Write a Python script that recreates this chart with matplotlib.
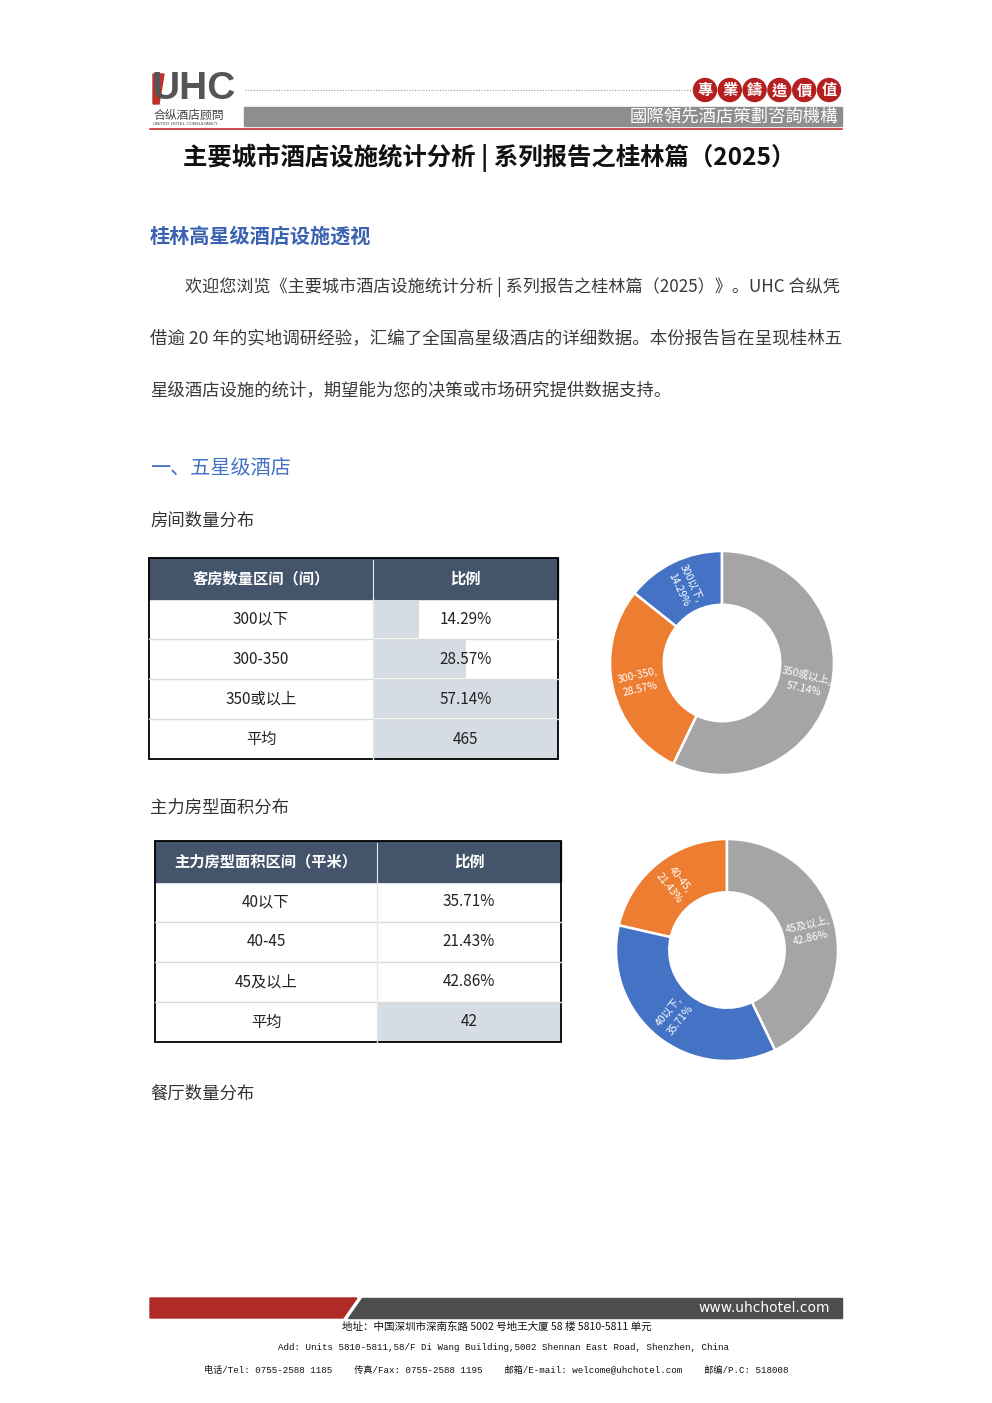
import numpy as np
import matplotlib
matplotlib.use('Agg')
import matplotlib.pyplot as plt
from matplotlib.patches import Rectangle, Circle, Polygon

plt.rcParams['font.family'] = ['Noto Sans CJK SC', 'DejaVu Sans']

# ---- data ----
room_cats = ['300以下', '300-350', '350或以上']
room_share = [14.29, 28.57, 57.14]
room_avg = 465

area_cats = ['40以下', '40-45', '45及以上']
area_share = [35.71, 21.43, 42.86]
area_avg = 42

# category colours (blue / orange / gray like office palette)
cat_colors = ['#4472C4', '#ED7D31', '#A5A5A5']

W, H = 992, 1403
fig = plt.figure(figsize=(W / 100, H / 100), dpi=100)
ax = fig.add_axes([0, 0, 1, 1])
ax.set_xlim(0, W)
ax.set_ylim(H, 0)
ax.axis('off')

dark = '#333333'
blue_txt = '#3A62B0'

# ---- header ----
ax.text(152, 89, 'UHC', fontsize=28, fontweight='bold', color='#555555',
        family='Liberation Sans', va='center', ha='left')
ax.add_patch(Polygon([[153, 74], [164, 74], [159, 104], [153, 104]], color='#C0302B'))
ax.text(153, 115, '合纵酒店顾問', fontsize=8.5, color='#444444', va='center', ha='left')
ax.text(153, 124, 'UNITED HOTEL CONSULTANCY', fontsize=3.2, color='#444444',
        va='center', ha='left', family='DejaVu Sans')
ax.plot([245, 693], [90, 90], ls=(0, (1, 1.5)), color='#999999', lw=0.8)
for i, ch in enumerate('專業鑄造價值'):
    cx = 705 + i * 24.8
    ax.add_patch(Circle((cx, 90), 11.5, color='#B3201F'))
    ax.text(cx, 90.5, ch, fontsize=11, fontweight='bold', color='white',
            ha='center', va='center', family='Noto Sans CJK TC')
ax.add_patch(Rectangle((244, 107), 598, 19, color='#8E8E8E'))
ax.text(838, 116.5, '國際領先酒店策劃咨詢機構', fontsize=12.5, color='white',
        ha='right', va='center', family='Noto Sans CJK TC')
ax.plot([150, 842], [129, 129], color='#C0302B', lw=1.2)

# ---- titles and paragraph ----
ax.text(489, 158, '主要城市酒店设施统计分析 | 系列报告之桂林篇（2025）', fontsize=17.6,
        fontweight='bold', color='#111111', ha='center', va='center')
ax.text(150, 236, '桂林高星级酒店设施透视', fontsize=14.5, fontweight='bold',
        color=blue_txt, ha='left', va='center')

para = ['欢迎您浏览《主要城市酒店设施统计分析 | 系列报告之桂林篇（2025）》。UHC 合纵凭',
        '借逾 20 年的实地调研经验，汇编了全国高星级酒店的详细数据。本份报告旨在呈现桂林五',
        '星级酒店设施的统计，期望能为您的决策或市场研究提供数据支持。']
para_x = [185, 150, 150]
para_fs = [12.3, 12.6, 12.5]
for i, line in enumerate(para):
    ax.text(para_x[i], 287 + i * 52, line, fontsize=para_fs[i], color='#3a3a3a',
            ha='left', va='center')

ax.text(150, 469, '一、五星级酒店', fontsize=14.5, color='#4472C4', ha='left', va='center')
ax.text(150, 521, '房间数量分布', fontsize=12.5, color=dark, ha='left', va='center')
ax.text(150, 808, '主力房型面积分布', fontsize=12.5, color=dark, ha='left', va='center')
ax.text(150, 1094, '餐厅数量分布', fontsize=12.5, color=dark, ha='left', va='center')


# ---- tables ----
def draw_table(x0, x1, xm, y0, head, cats, vals, avg, bars):
    hh, rh = 41, 40
    ax.add_patch(Rectangle((x0, y0), x1 - x0, hh, color='#44546A'))
    ax.plot([xm, xm], [y0 + 2, y0 + hh], color='#E8E8E8', lw=0.8)
    ax.text((x0 + xm) / 2, y0 + hh / 2, head, fontsize=11, fontweight='bold',
            color='white', ha='center', va='center')
    ax.text((xm + x1) / 2, y0 + hh / 2, '比例', fontsize=11, fontweight='bold',
            color='white', ha='center', va='center')
    cw = x1 - xm
    rows = [(c, f'{v:.2f}%') for c, v in zip(cats, vals)] + [('平均', str(avg))]
    vmax = max(vals)
    for i, (c, s) in enumerate(rows):
        ry = y0 + hh + i * rh
        if i < len(vals):
            if bars:
                ax.add_patch(Rectangle((xm, ry + 1), cw * vals[i] / vmax, rh - 2,
                                       color='#D6DCE4', lw=0))
        else:
            ax.add_patch(Rectangle((xm, ry + 1), cw, rh - 1, color='#D6DCE4', lw=0))
        if i > 0:
            ax.plot([x0, x1], [ry, ry], color='#DADADA', lw=1)
        ax.text((x0 + xm) / 2, ry + rh / 2, c, fontsize=11, color='#222222',
                ha='center', va='center')
        ax.text((xm + x1) / 2, ry + rh / 2, s, fontsize=11, color='#222222',
                ha='center', va='center')
    ax.plot([xm, xm], [y0 + hh, y0 + hh + 4 * rh], color='#E6E6E6', lw=1)
    ax.add_patch(Rectangle((x0, y0), x1 - x0, hh + 4 * rh, fill=False,
                           ec='black', lw=1.3))


draw_table(149, 558, 373, 558, '客房数量区间（间）', room_cats, room_share, room_avg, True)
draw_table(155, 561, 377, 841, '主力房型面积区间（平米）', area_cats, area_share, area_avg, False)


# ---- donuts ----
def draw_donut(cx, cy, r, cats, vals, order):
    dax = fig.add_axes([(cx - r) / W, 1 - (cy + r) / H, 2 * r / W, 2 * r / H])
    v = [vals[k] for k in order]
    cols = [cat_colors[k] for k in order]
    wedges, _ = dax.pie(v, colors=cols, startangle=90, counterclock=True,
                        wedgeprops=dict(width=0.48, edgecolor='white', linewidth=1.8))
    dax.set_xlim(-1, 1)
    dax.set_ylim(-1, 1)
    tot = sum(v)
    start = 90.0
    for k, val in zip(order, v):
        span = 360 * val / tot
        mid = start + span / 2
        start += span
        a = np.deg2rad(mid)
        rot = mid % 360
        if 90 < rot < 270:
            rot -= 180
        dax.text(0.76 * np.cos(a), 0.76 * np.sin(a), f'{cats[k]},\n{vals[k]:.2f}%',
                 fontsize=7.5, color='white', ha='center', va='center',
                 rotation=rot, rotation_mode='anchor', linespacing=1.5)


draw_donut(722, 663, 112, room_cats, room_share, [0, 1, 2])
draw_donut(727, 950, 111, area_cats, area_share, [1, 0, 2])

# ---- footer ----
ax.add_patch(Polygon([[150, 1298], [357, 1298], [343, 1318], [150, 1318]], color='#B02A27'))
ax.add_patch(Polygon([[362, 1298], [842, 1298], [842, 1318], [348, 1318]], color='#4D4D4D'))
ax.text(830, 1308, 'www.uhchotel.com', fontsize=10, color='white', ha='right',
        va='center', family='DejaVu Sans')
ax.text(497, 1327, '地址：中国深圳市深南东路 5002 号地王大厦 58 楼 5810-5811 单元',
        fontsize=7.6, color='#111111', ha='center', va='center')
ax.text(504, 1348, 'Add: Units 5810-5811,58/F Di Wang Building,5002 Shennan East Road, Shenzhen, China',
        fontsize=6.6, color='#111111', ha='center', va='center',
        family=['Liberation Mono', 'Noto Sans CJK SC'])
ax.text(496, 1369, '电话/Tel: 0755-2588 1185    传真/Fax: 0755-2588 1195    '
        '邮箱/E-mail: welcome@uhchotel.com    邮编/P.C: 518008',
        fontsize=6.6, color='#111111', ha='center', va='center',
        family=['Liberation Mono', 'Noto Sans CJK SC'])

fig.savefig('out.png', dpi=100, facecolor='white')
